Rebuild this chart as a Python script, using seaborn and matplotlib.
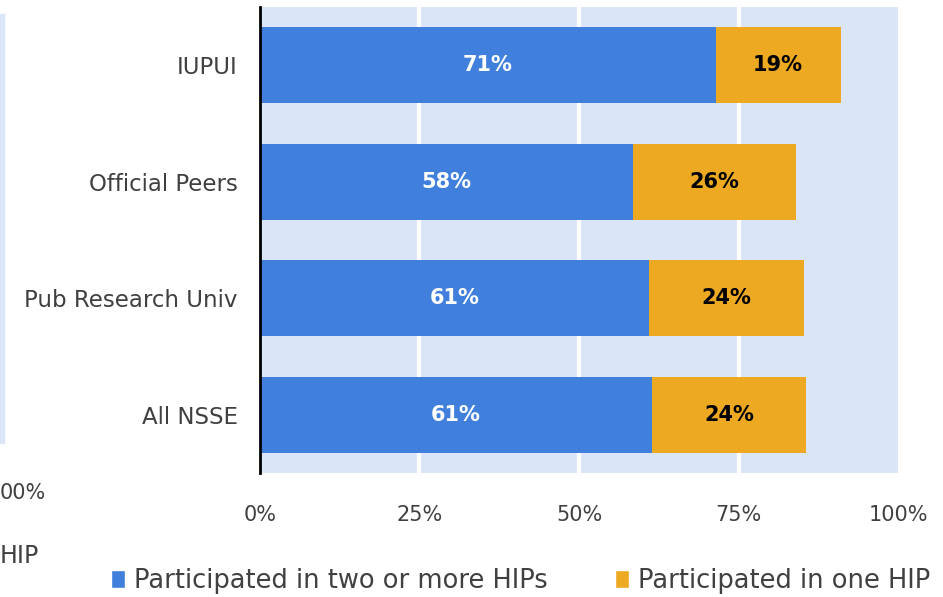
import matplotlib
matplotlib.use('Agg')
import numpy as np
import pandas as pd
import seaborn as sns
from matplotlib import pyplot as plt
from matplotlib.patches import Patch, Rectangle

# 数据
groups = ['IUPUI', 'Official Peers', 'Pub Research Univ', 'All NSSE']
two_or_more = [71.4, 58.4, 60.9, 61.4]
one_hip = [19.6, 25.6, 24.4, 24.2]
two_labels = ['71%', '58%', '61%', '61%']
one_labels = ['19%', '26%', '24%', '24%']
xticks = [0, 25, 50, 75, 100]
xtick_labels = ['0%', '25%', '50%', '75%', '100%']
legend_names = ['Participated in two or more HIPs', 'Participated in one HIP']

blue = '#4080DC'
orange = '#EEA922'
bg = '#DAE5F7'
txt = '#404040'

sns.set_style('white')
plt.rcParams['font.family'] = ['DejaVu Sans']

df = pd.DataFrame({'group': groups, 'two': two_or_more, 'one': one_hip})
df['total'] = df['two'] + df['one']

fig = plt.figure(figsize=(9.43, 5.97), dpi=100)
ax = fig.add_axes([0.2757, 0.2077, 0.6766, 0.7806])
ax.set_facecolor(bg)

# 堆叠条形图: 先画总和(橙色), 再画蓝色
sns.barplot(data=df, x='total', y='group', color=orange, saturation=1,
            width=0.65, linewidth=0, ax=ax, zorder=3)
sns.barplot(data=df, x='two', y='group', color=blue, saturation=1,
            width=0.65, linewidth=0, ax=ax, zorder=3)

for i in range(len(groups)):
    ax.text(two_or_more[i] / 2, i, two_labels[i], ha='center', va='center',
            color='white', fontsize=15, fontweight='bold', zorder=4)
    ax.text(two_or_more[i] + one_hip[i] / 2, i, one_labels[i], ha='center', va='center',
            color='black', fontsize=15, fontweight='bold', zorder=4)

ax.set_xlim(0, 100)
ax.set_ylim(3.5, -0.5)
ax.set_xticks(xticks)
ax.set_xticklabels(xtick_labels, fontsize=15, color=txt)
ax.tick_params(axis='y', labelsize=16.5, labelcolor=txt, length=0, pad=16)
ax.tick_params(axis='x', length=0, pad=23)
ax.set_xlabel('')
ax.set_ylabel('')
for g in [25, 50, 75]:
    ax.axvline(g, color='white', lw=3, zorder=1)
for s in ['top', 'right', 'bottom']:
    ax.spines[s].set_visible(False)
ax.spines['left'].set_color('black')
ax.spines['left'].set_linewidth(2)
ax.spines['left'].set_zorder(5)

# 图例
handles = [Patch(facecolor=blue), Patch(facecolor=orange)]
fig.legend(handles, legend_names, loc='center', bbox_to_anchor=(0.552, 0.027), ncol=2,
           frameon=False, fontsize=18.5, handlelength=0.55, handleheight=0.75,
           handletextpad=0.35, columnspacing=2.6, labelcolor=txt)

# 左侧相邻图表的残留部分
fig.patches.append(Rectangle((0, 1 - 443 / 597), 4 / 943, (443 - 14) / 597,
                             transform=fig.transFigure, color=bg, zorder=0))
fig.text(0, 1 - 493 / 597, '00%', ha='left', va='center', fontsize=15, color=txt)
fig.text(0, 1 - 556 / 597, 'HIP', ha='left', va='center', fontsize=17, color=txt)

plt.savefig('out.png', dpi=100)
